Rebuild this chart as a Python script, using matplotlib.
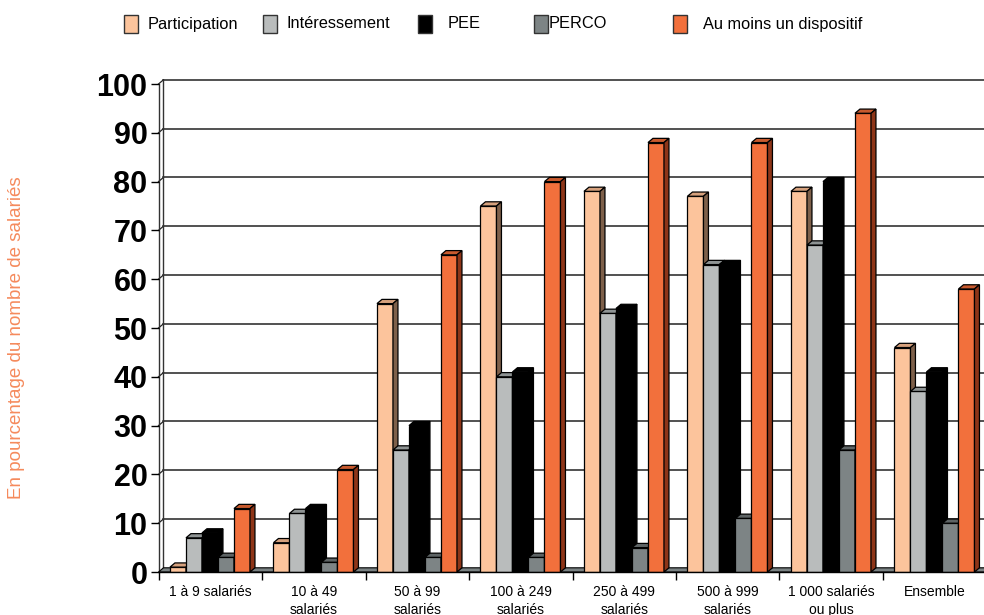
import matplotlib.pyplot as plt
from matplotlib.patches import Polygon, Rectangle
import numpy as np

plt.rcParams['font.family'] = ['Liberation Sans Narrow', 'Liberation Sans', 'DejaVu Sans']

categories = ["1 à 9 salariés", "10 à 49\nsalariés", "50 à 99\nsalariés", "100 à 249\nsalariés",
              "250 à 499\nsalariés", "500 à 999\nsalariés", "1 000 salariés\nou plus", "Ensemble"]
series = ["Participation", "Intéressement", "PEE", "PERCO", "Au moins un dispositif"]
participation = [1, 6, 55, 75, 78, 77, 78, 46]
interessement = [7, 12, 25, 40, 53, 63, 67, 37]
pee = [8, 13, 30, 41, 54, 63, 80, 41]
perco = [3, 2, 3, 3, 5, 11, 25, 10]
au_moins = [13, 21, 65, 80, 88, 88, 94, 58]
values = [participation, interessement, pee, perco, au_moins]

# front / top / side colours for each series
front = ['#FCC49C', '#B9BCBC', '#000000', '#7D8485', '#F2703C']
top = ['#D6A17D', '#8E9393', '#000000', '#5E6465', '#C85A2E']
side = ['#7E604A', '#6C7070', '#000000', '#4A5050', '#8E3518']

dx, dy = 0.048, 0.86          # depth offset of the 3D effect (data units)
bw, off = 0.1546, 0.111       # bar width and offset inside a group
n = len(categories)

fig = plt.figure(figsize=(9.84, 6.15), dpi=100)
ax = fig.add_axes([158.5 / 984, 43 / 615, 8 * 103.5 / 984, 488 / 615])
ax.set_xlim(0, n)
ax.set_ylim(0, 100)

# walls and gridlines
ax.add_patch(Polygon([(0, 0), (n, 0), (n + dx, dy), (dx, dy)], closed=True,
                     facecolor='#7A8283', edgecolor='black', lw=0.8, zorder=1, clip_on=False))
for v in range(10, 101, 10):
    ax.plot([dx, n + dx], [v + dy, v + dy], color='#222222', lw=1.1, zorder=0.5, clip_on=False)
    ax.plot([0, dx], [v, v + dy], color='#222222', lw=0.9, zorder=0.5, clip_on=False)
ax.plot([dx, dx], [dy, 100 + dy], color='#333333', lw=1.0, zorder=0.5, clip_on=False)
ax.plot([0, 0], [0, 100], color='#333333', lw=1.0, zorder=0.5, clip_on=False)

# bars: front face with ax.bar, top and side as polygons
for i in range(n):
    for j, vals in enumerate(values):
        v = vals[i]
        x0 = i + off + j * bw
        ax.bar(x0, v, width=bw, align='edge', color=front[j], edgecolor='black',
               lw=0.9, zorder=2 + j * 0.1)
        ax.add_patch(Polygon([(x0, v), (x0 + bw, v), (x0 + bw + dx, v + dy), (x0 + dx, v + dy)],
                             closed=True, facecolor=top[j], edgecolor='black', lw=0.9,
                             zorder=2 + j * 0.1, clip_on=False))
        ax.add_patch(Polygon([(x0 + bw, 0), (x0 + bw + dx, dy), (x0 + bw + dx, v + dy), (x0 + bw, v)],
                             closed=True, facecolor=side[j], edgecolor='black', lw=0.9,
                             zorder=2 + j * 0.1, clip_on=False))

for s in ['top', 'right']:
    ax.spines[s].set_visible(False)
ax.spines['left'].set_visible(False)
ax.spines['bottom'].set_linewidth(1.0)
ax.spines['bottom'].set_zorder(5)

ax.set_yticks(range(0, 101, 10))
ax.tick_params(axis='y', length=6, width=1, pad=2, labelsize=22)
for t in ax.get_yticklabels():
    t.set_fontfamily(['Liberation Sans', 'DejaVu Sans'])
    t.set_fontweight('bold')

ax.set_xticks(np.arange(0, n + 1))
ax.set_xticklabels([])
ax.set_xticks(np.arange(n) + 0.5, minor=True)
ax.set_xticklabels(categories, minor=True, fontsize=10, linespacing=1.4)
ax.tick_params(axis='x', which='major', length=6, width=1)
ax.tick_params(axis='x', which='minor', length=0, pad=9)

fig.text(17 / 984, 1 - 338 / 615, "En pourcentage du nombre de salariés", rotation=90,
         ha='center', va='center', color='#F58A5C', fontsize=13.5,
         family=['Liberation Sans', 'DejaVu Sans'])

# legend along the top
legend_x = [124, 263, 418, 534, 673]
text_x = [148, 287, 448, 549, 703]
for j, name in enumerate(series):
    fig.patches.append(Rectangle((legend_x[j] / 984, 1 - 33 / 615), 14 / 984, 18 / 615,
                                 transform=fig.transFigure, facecolor=front[j],
                                 edgecolor='#333333', lw=1.0))
    fig.text(text_x[j] / 984, 1 - 24 / 615, name, ha='left', va='center', fontsize=11.8)

fig.savefig('out.png', dpi=100, facecolor='white')
